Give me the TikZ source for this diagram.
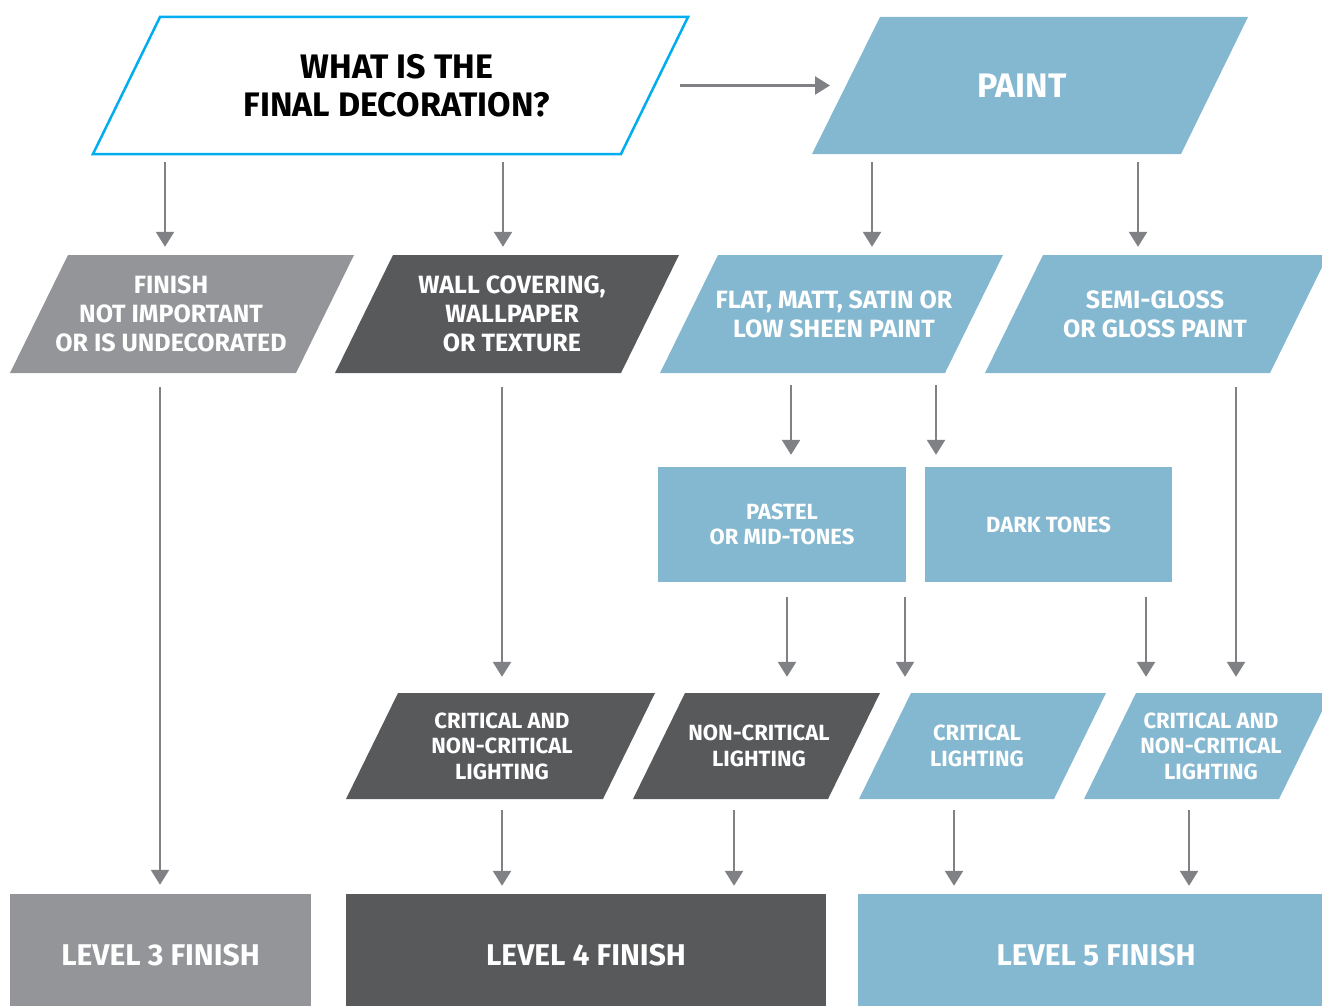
\documentclass[tikz,border=0pt]{standalone}
\usepackage{fontspec}
\setmainfont{Fira Sans}
\usetikzlibrary{arrows.meta}
\definecolor{paleblue}{HTML}{84B7D0}
\definecolor{darkgrey}{HTML}{58595B}
\definecolor{midgrey}{HTML}{939598}
\definecolor{linegrey}{HTML}{808184}
\definecolor{cyanline}{HTML}{00AEEF}
\tikzset{
  label/.style={rectangle, inner sep=0pt, align=center, text=white},
  box/.style={label, fill=#1},
  huge/.style={font=\bfseries\fontsize{34}{38}\selectfont},
  big/.style={font=\bfseries\fontsize{30}{36}\selectfont},
  mid/.style={font=\bfseries\fontsize{25}{29}\selectfont},
  small/.style={font=\bfseries\fontsize{22}{25.5}\selectfont},
  arr/.style={draw=linegrey, line width=2.5pt, -{Triangle[length=15pt,width=18pt]}},
}
\begin{document}
\begin{tikzpicture}[x=1pt,y=-1pt]
  \clip (0,0) rectangle (1322,1006);
  % slanted shapes
  \draw[cyanline, line width=2.5pt, fill=white] (160,17) -- (688,17) -- (621,154) -- (93,154) -- cycle;
  \fill[paleblue] (880,17) -- (1248,17) -- (1181,154) -- (812,154) -- cycle;
  \fill[midgrey] (68,255) -- (354,255) -- (296,373) -- (10,373) -- cycle;
  \fill[darkgrey] (393,255) -- (679,255) -- (621,373) -- (335,373) -- cycle;
  \fill[paleblue] (718,255) -- (1003,255) -- (945,373) -- (660,373) -- cycle;
  \fill[paleblue] (1043,255) -- (1328,255) -- (1270,373) -- (985,373) -- cycle;
  \fill[darkgrey] (398,693) -- (655,693) -- (603,799) -- (346,799) -- cycle;
  \fill[darkgrey] (685,693) -- (880,693) -- (828,799) -- (633,799) -- cycle;
  \fill[paleblue] (911,693) -- (1106,693) -- (1054,799) -- (859,799) -- cycle;
  \fill[paleblue] (1136,693) -- (1331,693) -- (1279,799) -- (1084,799) -- cycle;
  % labels
  \node[label, huge, text=black, minimum height=137pt] (q) at (397,85.5) {WHAT IS THE\\FINAL DECORATION?};
  \node[label, huge, minimum height=137pt] (paint) at (1022,85.5) {PAINT};
  \node[label, mid, minimum height=118pt] (fin) at (171,314) {FINISH\\NOT IMPORTANT\\OR IS UNDECORATED};
  \node[label, mid, minimum height=118pt] (wall) at (512,314) {WALL COVERING,\\WALLPAPER\\OR TEXTURE};
  \node[label, mid, minimum height=118pt] (flat) at (834,314) {FLAT, MATT, SATIN OR\\LOW SHEEN PAINT};
  \node[label, mid, minimum height=118pt] (semi) at (1155,314) {SEMI-GLOSS\\OR GLOSS PAINT};
  \node[box=paleblue, small, minimum width=248pt, minimum height=115pt] (pastel) at (782,524.5) {PASTEL\\OR MID-TONES};
  \node[box=paleblue, small, minimum width=247pt, minimum height=115pt] (dark) at (1048.5,524.5) {DARK TONES};
  \node[label, small, minimum height=106pt] (crnc) at (502,746) {CRITICAL AND\\NON-CRITICAL\\LIGHTING};
  \node[label, small, minimum height=106pt] (nc) at (759,746) {NON-CRITICAL\\LIGHTING};
  \node[label, small, minimum height=106pt] (cr) at (977,746) {CRITICAL\\LIGHTING};
  \node[label, small, minimum height=106pt] (crnc2) at (1211,746) {CRITICAL AND\\NON-CRITICAL\\LIGHTING};
  \node[box=midgrey, big, minimum width=301pt, minimum height=122pt] (lv3) at (160.5,955) {LEVEL 3 FINISH};
  \node[box=darkgrey, big, minimum width=480pt, minimum height=122pt] (lv4) at (586,955) {LEVEL 4 FINISH};
  \node[box=paleblue, big, minimum width=476pt, minimum height=122pt] (lv5) at (1096,955) {LEVEL 5 FINISH};
  % arrows
  \draw[arr] (q.center -| 680,0) -- (paint.center -| 830,0);
  \draw[arr, shorten <=8pt, shorten >=8pt] (q.south -| 165,0) -- (fin.north -| 165,0);
  \draw[arr, shorten <=8pt, shorten >=8pt] (q.south -| 503,0) -- (wall.north -| 503,0);
  \draw[arr, shorten <=8pt, shorten >=8pt] (paint.south -| 872,0) -- (flat.north -| 872,0);
  \draw[arr, shorten <=8pt, shorten >=8pt] (paint.south -| 1138,0) -- (semi.north -| 1138,0);
  \draw[arr, shorten <=14pt, shorten >=9pt] (fin.south -| 160,0) -- (lv3.north -| 160,0);
  \draw[arr, shorten <=14pt, shorten >=16pt] (wall.south -| 502,0) -- (crnc.north -| 502,0);
  \draw[arr, shorten <=12pt, shorten >=12pt] (flat.south -| 791,0) -- (pastel.north -| 791,0);
  \draw[arr, shorten <=12pt, shorten >=12pt] (flat.south -| 936,0) -- (dark.north -| 936,0);
  \draw[arr, shorten <=14pt, shorten >=16pt] (semi.south -| 1236,0) -- (crnc2.north -| 1236,0);
  \draw[arr, shorten <=15pt, shorten >=16pt] (pastel.south -| 787,0) -- (nc.north -| 787,0);
  \draw[arr, shorten <=15pt, shorten >=16pt] (pastel.south -| 905,0) -- (cr.north -| 905,0);
  \draw[arr, shorten <=15pt, shorten >=16pt] (dark.south -| 1146,0) -- (crnc2.north -| 1146,0);
  \draw[arr, shorten <=11pt, shorten >=8pt] (crnc.south -| 502,0) -- (lv4.north -| 502,0);
  \draw[arr, shorten <=11pt, shorten >=8pt] (nc.south -| 734,0) -- (lv4.north -| 734,0);
  \draw[arr, shorten <=11pt, shorten >=8pt] (cr.south -| 954,0) -- (lv5.north -| 954,0);
  \draw[arr, shorten <=11pt, shorten >=8pt] (crnc2.south -| 1189,0) -- (lv5.north -| 1189,0);
\end{tikzpicture}
\end{document}
